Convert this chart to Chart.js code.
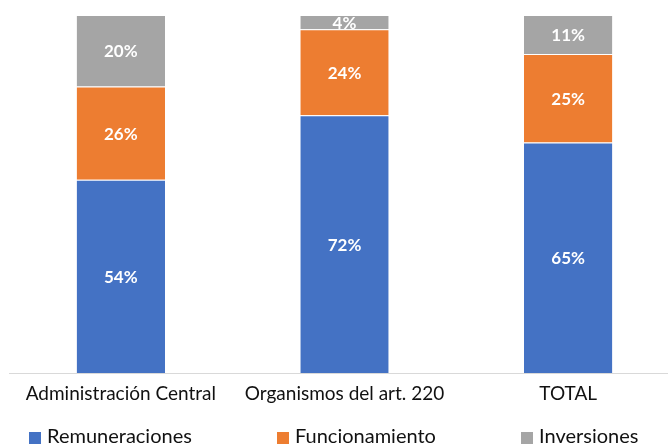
<!DOCTYPE html>
<html>
<head>
<meta charset="utf-8">
<script src="https://cdn.jsdelivr.net/npm/chart.js@4.4.1/dist/chart.umd.min.js"></script>
<style>
  html, body { margin: 0; padding: 0; background: #fff; }
  #wrap { position: relative; width: 668px; height: 444px; overflow: hidden; }
  #chart { position: absolute; left: 0; top: 0; }
  .leg { position: absolute; top: 424px; font-family: Lato, "Open Sans", sans-serif; font-size: 20px; color: #111; white-space: nowrap; line-height: 22px; }
  .leg i { display: inline-block; width: 12px; height: 12px; margin-right: 6px; vertical-align: -1px; }
</style>
</head>
<body>
<div id="wrap">
  <canvas id="chart" width="680" height="444"></canvas>
  <div id="legend"></div>
</div>
<script>
(function () {

  var categories = ['Administración Central', 'Organismos del art. 220', 'TOTAL'];
  var seriesNames = ['Remuneraciones', 'Funcionamiento', 'Inversiones'];
  var remuneraciones = [54, 72, 65];
  var funcionamiento = [26, 24, 25];
  var inversiones = [20, 4, 11];
  var colors = ['#4472C4', '#ED7D31', '#A5A5A5'];

  var series = [remuneraciones, funcionamiento, inversiones];

  // 100% stacked: scale every column by its own total
  function share(arr, i) {
    var total = remuneraciones[i] + funcionamiento[i] + inversiones[i];
    return arr[i] / total * 100;
  }

  var datasets = series.map(function (arr, s) {
    return {
      label: seriesNames[s],
      data: arr.map(function (v, i) { return share(arr, i); }),
      backgroundColor: colors[s],
      borderColor: 'rgba(255,255,255,0.55)',
      borderWidth: { top: 1, bottom: 0, left: 0, right: 0 },
      borderSkipped: false,
      barPercentage: 0.79,
      categoryPercentage: 0.5
    };
  });

  var valueLabels = {
    id: 'valueLabels',
    afterDatasetsDraw: function (chart) {
      var ctx = chart.ctx;
      ctx.save();
      ctx.fillStyle = '#ffffff';
      ctx.font = 'bold 17px Lato, "Open Sans", sans-serif';
      ctx.textAlign = 'center';
      ctx.textBaseline = 'middle';
      chart.data.datasets.forEach(function (ds, s) {
        var meta = chart.getDatasetMeta(s);
        meta.data.forEach(function (bar, i) {
          var y = (bar.y + bar.base) / 2;
          ctx.fillText(series[s][i] + '%', bar.x, y + 1);
        });
      });
      ctx.restore();
    }
  };

  new Chart(document.getElementById('chart').getContext('2d'), {
    type: 'bar',
    data: { labels: categories, datasets: datasets },
    options: {
      responsive: false,
      devicePixelRatio: 1,
      animation: false,
      layout: { padding: { top: 15, left: 9, right: 0, bottom: 41 } },
      plugins: {
        legend: { display: false },
        tooltip: { enabled: false }
      },
      scales: {
        x: {
          stacked: true,
          grid: { display: false, drawTicks: false },
          border: { display: true, color: '#D9D9D9', width: 1 },
          ticks: {
            padding: 9,
            color: '#111',
            font: { family: 'Lato, "Open Sans", sans-serif', size: 19 },
            maxRotation: 0,
            autoSkip: false
          },
          afterFit: function (scale) { scale.height = 30; }
        },
        y: {
          stacked: true,
          display: false,
          min: 0,
          max: 100
        }
      }
    },
    plugins: [valueLabels]
  });

  // legend spread out like the original
  var legendLeft = [29, 277, 521];
  var legend = document.getElementById('legend');
  seriesNames.forEach(function (name, s) {
    var el = document.createElement('div');
    el.className = 'leg';
    el.style.left = legendLeft[s] + 'px';
    el.innerHTML = '<i style="background:' + colors[s] + '"></i>' + name;
    legend.appendChild(el);
  });
})();
</script>
</body>
</html>
